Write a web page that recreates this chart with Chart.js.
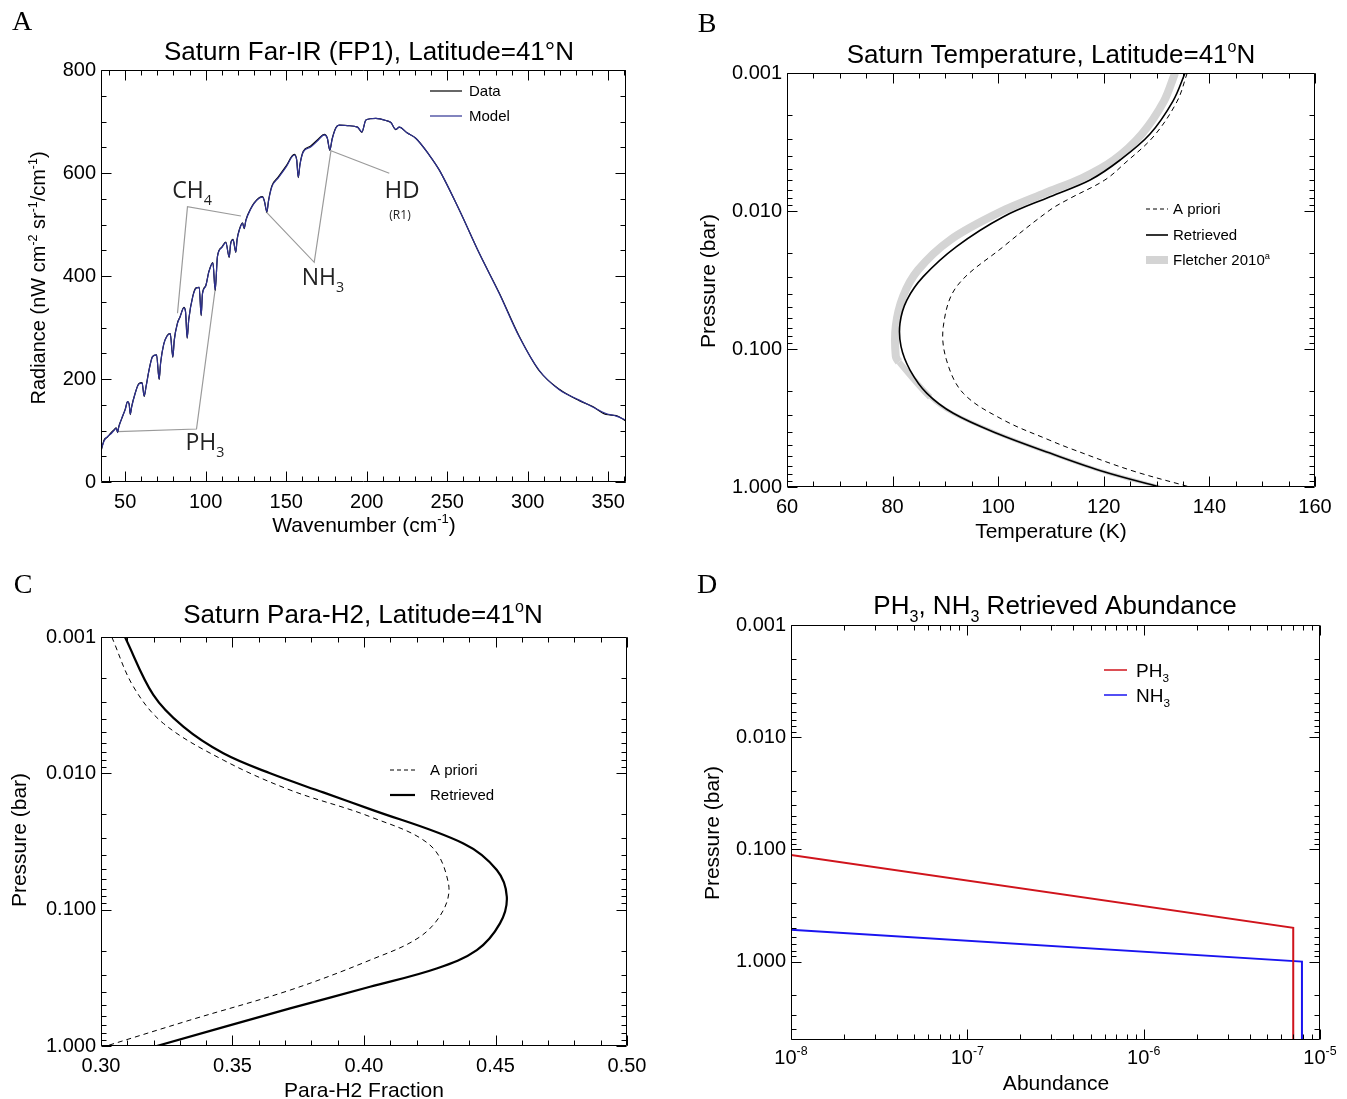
<!DOCTYPE html>
<html><head><meta charset="utf-8">
<script src="https://cdn.jsdelivr.net/npm/chart.js@4.4.0/dist/chart.umd.min.js"></script>
<style>
html,body{margin:0;padding:0;background:#fff;}
#wrap{position:relative;width:1347px;height:1099px;overflow:hidden;background:#fff;}
#wrap canvas{position:absolute;left:0;top:0;}
</style></head><body>
<div id="wrap">
<canvas id="cA" width="1347" height="1099"></canvas>
<canvas id="cB" width="1347" height="1099"></canvas>
<canvas id="cC" width="1347" height="1099"></canvas>
<canvas id="cD" width="1347" height="1099"></canvas>
</div>
<script>
// ---------- Panel A: Far-IR spectrum ----------
const wavenumber = [35,37,39,41,43,44.5,45.3,46,48,50,51.5,52.5,53.2,54,56,58.5,60.5,61.8,63,65,67,69.5,71.1,72,74,76,78,79.6,80.5,82.5,84,86.5,87.5,88.5,89.5,92,94,96,97.2,98,100,102,104.5,105.9,107.3,110,112.5,114.6,115.5,117,118.7,119.5,121,122.9,123.9,125,128,130.1,133.2,135.3,136.5,138,139,141.1,145,150,155,156.5,157.5,158.5,160.6,165,170,173.6,175.5,177.1,178.5,180.8,182.9,188,194.3,197,199.5,205.7,211.9,215,218.1,220.2,225,230.6,238.8,245,257.5,269.9,282.3,294.7,307.1,319.6,332,340,348.6,355,361];
const radianceModel = [62,80,88,93,100,104,97,106,125,140,156,150,132,145,170,190,192,167,185,220,243,247,200,230,268,283,288,243,275,308,320,338,330,280,315,360,376,378,324,365,380,408,425,373,437,455,465,437,462,470,447,470,490,502,493,508,530,541,551,553,545,525,545,573,590,612,635,625,592,615,641,650,664,674,668,645,665,687,693,692,689,680,703,706,702,698,685,689,678,667,635,606,528,444,366,282,217,179,159,146,133,128,120];
const radianceData  = [60,82,87,95,101,105,96,107,124,141,156,151,131,146,170,191,193,166,186,220,244,247,199,231,268,284,288,242,276,309,320,339,331,279,316,361,377,378,323,366,381,409,426,372,438,456,466,436,463,471,446,471,491,503,492,509,531,542,552,554,545,524,546,575,592,614,636,626,591,616,642,652,666,675,668,644,666,688,693,692,689,679,703,706,702,698,684,689,678,667,635,606,528,444,367,283,216,180,158,147,131,129,118];
// annotation leader lines (wavenumber, radiance)
const ch4LeadX = [121.9, 88.7, 82.5],  ch4LeadY = [516.5, 534.6, 327.6];
const ph3LeadX = [45.2, 94.3, 105.9],  ph3LeadY = [97.7, 102.9, 374.2];
const nh3LeadX = [137.4, 167.4, 177.8], nh3LeadY = [524.9, 426.6, 643.3];
const hdLeadX  = [177.8, 214.0],        hdLeadY  = [643.3, 599.4];
const aXTicks = [50,100,150,200,250,300,350];
const aYTicks = [0,200,400,600,800];

// ---------- Panel B: temperature ----------
const retrievedT = [135.4,133.1,128.75,123.1,117.4,109.8,101.0,92.1,85.8,82.7,81.4,81.6,83.3,86.5,91.5,99.7,109.8,120.2,130.6];
const retrievedP = [0.001,0.0016,0.00277,0.00427,0.00596,0.00788,0.011,0.0181,0.0299,0.0442,0.0651,0.0962,0.142,0.2096,0.2924,0.408,0.568,0.779,1.0];
const aprioriT = [135.8,133.9,129.5,124.0,120.2,113.6,109.8,101.0,92.1,89.6,90.2,93.4,101.0,109.8,113.6,125.0,136.3];
const aprioriP = [0.001,0.0016,0.00286,0.0045,0.00596,0.0081,0.00984,0.0181,0.0354,0.0689,0.120,0.2096,0.327,0.459,0.525,0.754,1.0];
const fletcherT = [133.5,131.4,127.2,121.9,115.9,108.9,100.3,90.9,84.8,82.0,80.6,80.6,81.2,87.1,91.4,99.8,109.8,120.2,130.6];
const fletcherP = [0.001,0.0016,0.00277,0.00427,0.00577,0.00741,0.0102,0.0162,0.0268,0.0414,0.0682,0.1126,0.124,0.2237,0.2924,0.408,0.568,0.779,1.0];
const tXTicks = [60,80,100,120,140,160];
const pTicks = [0.001,0.01,0.1,1];

// ---------- Panel C: para-H2 ----------
const paraRetF = [0.3091,0.3199,0.3313,0.3465,0.3643,0.3845,0.4023,0.4378,0.4505,0.4543,0.4517,0.4429,0.4276,0.4023,0.3719,0.3212];
const paraRetP = [0.001,0.00266,0.00455,0.00713,0.0100,0.0138,0.0183,0.0327,0.0512,0.0804,0.126,0.198,0.270,0.368,0.530,1.0];
const paraAprF = [0.3041,0.3123,0.3237,0.3465,0.3719,0.4023,0.4251,0.4321,0.4302,0.4213,0.4023,0.3719,0.3338,0.302];
const paraAprP = [0.001,0.00231,0.0043,0.00799,0.01326,0.0208,0.0336,0.0641,0.1007,0.158,0.2344,0.389,0.646,1.0];
const fXTicks = [0.30,0.35,0.40,0.45,0.50];

// ---------- Panel D: abundances ----------
const ph3Abund = [1e-8, 7.05e-6, 7.05e-6];
const ph3Pres  = [0.112, 0.5, 5];
const nh3Abund = [1e-8, 7.9e-6, 7.9e-6];
const nh3Pres  = [0.52, 1.0, 5];
const abundTicks = [1e-8,1e-7,1e-6,1e-5];

// ---------- helpers ----------
const SANS = '"Liberation Sans", Arial, Helvetica, sans-serif';
const SERIF = '"Liberation Serif", "Times New Roman", serif';
const OPEN = '"Open Sans", "Liberation Sans", sans-serif';
Chart.defaults.font.family = SANS;
const zip = (xs, ys) => xs.map((x, i) => ({x: x, y: ys[i]}));
function linMinor(lo, hi, step){ const out=[]; for(let k=Math.ceil(lo/step-1e-9); k*step<=hi+1e-9; k++) out.push(+(k*step).toFixed(6)); return out; }
function logMinor(lo, hi){ const out=[]; for(let e=Math.floor(Math.log10(lo)); e<Math.ceil(Math.log10(hi)); e++){ for(let m=2;m<=9;m++){ const v=m*Math.pow(10,e); if(v>lo && v<hi) out.push(v);} } return out; }

function drawRich(ctx, x, y, parts, o){
  const size = o.size, fam = o.family || SANS;
  ctx.save();
  ctx.translate(x, y);
  if (o.rotate) ctx.rotate(o.rotate);
  ctx.fillStyle = o.color || '#000';
  ctx.textBaseline = 'alphabetic'; ctx.textAlign = 'left';
  let w = 0;
  const items = parts.map(p => {
    const t = (typeof p === 'string') ? [p, ''] : p;
    const s = t[1] ? size*0.62 : size;
    ctx.font = s + 'px ' + fam;
    const mw = ctx.measureText(t[0]).width;
    w += mw;
    return {text: t[0], mode: t[1], s: s, w: mw};
  });
  let cx = o.align === 'left' ? 0 : (o.align === 'right' ? -w : -w/2);
  const base = size*0.36;
  items.forEach(it => {
    ctx.font = it.s + 'px ' + fam;
    let dy = base;
    if (it.mode === 'sub') dy += size*0.28;
    if (it.mode === 'sup') dy -= size*0.42;
    ctx.fillText(it.text, cx, dy);
    cx += it.w;
  });
  ctx.restore();
}

const frames = {};
const idlFrame = {
  id: 'idlFrame',
  afterDatasetsDraw(chart){
    const o = frames[chart.canvas.id]; if (!o) return;
    const ctx = chart.ctx, a = chart.chartArea, xs = chart.scales.x, ys = chart.scales.y;
    ctx.save();
    ctx.strokeStyle = '#000'; ctx.lineWidth = 1; ctx.setLineDash([]);
    const L = Math.round(a.left)+0.5, R = Math.round(a.right)-0.5, T = Math.round(a.top)+0.5, B = Math.round(a.bottom)-0.5;
    ctx.beginPath();
    ctx.rect(L, T, R-L, B-T);
    const tk = (vals, len, hor) => vals.forEach(v => {
      const p = Math.round((hor ? xs : ys).getPixelForValue(v)) + 0.5;
      if (hor){ ctx.moveTo(p,B); ctx.lineTo(p,B-len); ctx.moveTo(p,T); ctx.lineTo(p,T+len); }
      else { ctx.moveTo(L,p); ctx.lineTo(L+len,p); ctx.moveTo(R,p); ctx.lineTo(R-len,p); }
    });
    tk(o.xMajor, 10, true); tk(o.xMinor, 5, true); tk(o.yMajor, 10, false); tk(o.yMinor, 5, false);
    ctx.stroke();
    if (o.logXLabels){
      o.logXLabels.forEach(v => {
        const px = xs.getPixelForValue(v);
        drawRich(ctx, px, B+17, ['10', [String(Math.round(Math.log10(v))), 'sup']], {size: 20});
      });
    }
    (o.legend || []).forEach(l => {
      ctx.save();
      ctx.strokeStyle = l.color; ctx.lineWidth = l.width; ctx.lineCap = 'butt';
      ctx.setLineDash(l.dash || []);
      ctx.beginPath(); ctx.moveTo(l.x1, l.y); ctx.lineTo(l.x2, l.y); ctx.stroke();
      ctx.restore();
      drawRich(ctx, l.tx, l.y, l.parts, {size: l.size, align: 'left'});
    });
    (o.texts || []).forEach(t => drawRich(ctx, t.x, t.y, t.parts, t));
    ctx.restore();
  }
};

const YW = 90, XH = 60, W = 1347, H = 1099;
function axis(type, min, max, ticksArr, fmt, horizontal, showLabels){
  return {
    type: type, min: min, max: max, position: horizontal ? 'bottom' : 'left',
    reverse: (!horizontal && type === 'logarithmic'),
    grid: {display: false, drawTicks: false}, border: {display: false},
    ticks: {display: showLabels !== false, autoSkip: false, maxRotation: 0, minRotation: 0, color: '#000',
      font: {family: SANS, size: 20}, padding: horizontal ? 8 : 5, callback: (v) => fmt(v)},
    afterBuildTicks: (s) => { s.ticks = ticksArr.map(v => ({value: v})); },
    afterFit: (s) => { if (horizontal) s.height = XH; else s.width = YW; }
  };
}
function ds(xs, ys, color, width, extra){
  return Object.assign({data: zip(xs, ys), borderColor: color, backgroundColor: color, borderWidth: width,
    showLine: true, pointRadius: 0, pointHoverRadius: 0, tension: 0, clip: 0, fill: false}, extra || {});
}
function makeChart(id, box, xAxis, yAxis, datasets){
  return new Chart(document.getElementById(id), {
    type: 'scatter',
    data: {datasets: datasets},
    options: {
      responsive: false, animation: false, events: [],
      layout: {padding: {left: box.L - YW, top: box.T, right: W - box.R, bottom: H - box.B - XH}},
      plugins: {legend: {display: false}, tooltip: {enabled: false}, title: {display: false}},
      scales: {x: xAxis, y: yAxis}
    },
    plugins: [idlFrame]
  });
}
const ROT = -Math.PI/2;
const GRAY = '#9a9a9a';

// ----- Panel A -----
frames.cA = {
  xMajor: aXTicks, xMinor: linMinor(35, 361, 10), yMajor: aYTicks, yMinor: linMinor(0, 800, 50),
  legend: [
    {x1: 430, x2: 462, y: 91, color: '#000', width: 1.2, tx: 469, parts: ['Data'], size: 15},
    {x1: 430, x2: 462, y: 116, color: '#2e3192', width: 1.2, tx: 469, parts: ['Model'], size: 15}
  ],
  texts: [
    {x: 22, y: 20, parts: ['A'], size: 28, family: SERIF},
    {x: 369, y: 51, parts: ['Saturn Far-IR (FP1), Latitude=41°N'], size: 26},
    {x: 364, y: 524, parts: ['Wavenumber (cm', ['-1','sup'], ')'], size: 21},
    {x: 38, y: 278, rotate: ROT, parts: ['Radiance (nW cm', ['-2','sup'], ' sr', ['-1','sup'], '/cm', ['-1','sup'], ')'], size: 20},
    {x: 192, y: 190, parts: ['CH', ['4','sub']], size: 23, family: OPEN, color: '#222'},
    {x: 323, y: 277, parts: ['NH', ['3','sub']], size: 23, family: OPEN, color: '#222'},
    {x: 205, y: 442, parts: ['PH', ['3','sub']], size: 23, family: OPEN, color: '#222'},
    {x: 402, y: 189, parts: ['HD'], size: 24, family: OPEN, color: '#222'},
    {x: 400, y: 215, parts: ['(R1)'], size: 12, family: OPEN, color: '#222'}
  ]
};
makeChart('cA', {L: 101, R: 626, T: 70, B: 482},
  axis('linear', 35, 361, aXTicks, v => String(v), true),
  axis('linear', 0, 800, aYTicks, v => String(v), false),
  [
    ds(wavenumber, radianceModel, '#2e3192', 1.2, {cubicInterpolationMode: 'monotone'}),
    ds(wavenumber, radianceData, '#000', 1.2, {cubicInterpolationMode: 'monotone'}),
    ds(ch4LeadX, ch4LeadY, GRAY, 1.2),
    ds(ph3LeadX, ph3LeadY, GRAY, 1.2),
    ds(nh3LeadX, nh3LeadY, GRAY, 1.2),
    ds(hdLeadX, hdLeadY, GRAY, 1.2)
  ]);

// ----- Panel B -----
frames.cB = {
  xMajor: tXTicks, xMinor: linMinor(60, 160, 5), yMajor: pTicks, yMinor: logMinor(0.001, 1),
  legend: [
    {x1: 1146, x2: 1168, y: 209, color: '#000', width: 1, dash: [4,3], tx: 1173, parts: ['A priori'], size: 15},
    {x1: 1146, x2: 1168, y: 235, color: '#000', width: 1.6, tx: 1173, parts: ['Retrieved'], size: 15},
    {x1: 1146, x2: 1168, y: 260, color: '#d4d4d4', width: 8, tx: 1173, parts: ['Fletcher 2010', ['a','sup']], size: 15}
  ],
  texts: [
    {x: 707, y: 22, parts: ['B'], size: 28, family: SERIF},
    {x: 1051, y: 54, parts: ['Saturn Temperature, Latitude=41', ['o','sup'], 'N'], size: 26},
    {x: 1051, y: 530, parts: ['Temperature (K)'], size: 21},
    {x: 707, y: 281, rotate: ROT, parts: ['Pressure (bar)'], size: 21}
  ]
};
makeChart('cB', {L: 787, R: 1315, T: 73, B: 487},
  axis('linear', 60, 160, tXTicks, v => String(v), true),
  axis('logarithmic', 0.001, 1, pTicks, v => v.toFixed(3), false),
  [
    ds(retrievedT, retrievedP, '#000', 1.6, {tension: 0.35}),
    ds(aprioriT, aprioriP, '#000', 1, {tension: 0.35, borderDash: [5,4]}),
    ds(fletcherT, fletcherP, '#d4d4d4', 8, {tension: 0.3,
      segment: {borderWidth: (c) => c.p0DataIndex >= 13 ? 3.5 : (c.p0DataIndex >= 12 ? 6 : 8)}})
  ]);

// ----- Panel C -----
frames.cC = {
  xMajor: fXTicks, xMinor: linMinor(0.30, 0.50, 0.01), yMajor: pTicks, yMinor: logMinor(0.001, 1),
  legend: [
    {x1: 390, x2: 415, y: 770, color: '#000', width: 1, dash: [4,3], tx: 430, parts: ['A priori'], size: 15},
    {x1: 390, x2: 415, y: 795, color: '#000', width: 2.2, tx: 430, parts: ['Retrieved'], size: 15}
  ],
  texts: [
    {x: 23, y: 583, parts: ['C'], size: 28, family: SERIF},
    {x: 363, y: 614, parts: ['Saturn Para-H2, Latitude=41', ['o','sup'], 'N'], size: 26},
    {x: 364, y: 1089, parts: ['Para-H2 Fraction'], size: 21},
    {x: 18, y: 840, rotate: ROT, parts: ['Pressure (bar)'], size: 21}
  ]
};
makeChart('cC', {L: 101, R: 627, T: 637, B: 1046},
  axis('linear', 0.30, 0.50, fXTicks, v => v.toFixed(2), true),
  axis('logarithmic', 0.001, 1, pTicks, v => v.toFixed(3), false),
  [
    ds(paraRetF, paraRetP, '#000', 2.2, {tension: 0.35}),
    ds(paraAprF, paraAprP, '#000', 1, {tension: 0.35, borderDash: [5,4]})
  ]);

// ----- Panel D -----
frames.cD = {
  xMajor: abundTicks, xMinor: logMinor(1e-8, 1e-5), yMajor: pTicks, yMinor: logMinor(0.001, 5),
  logXLabels: abundTicks,
  legend: [
    {x1: 1104, x2: 1127, y: 670, color: '#d0141c', width: 1.5, tx: 1136, parts: ['PH', ['3','sub']], size: 19},
    {x1: 1104, x2: 1127, y: 695, color: '#1a14f0', width: 1.5, tx: 1136, parts: ['NH', ['3','sub']], size: 19}
  ],
  texts: [
    {x: 707, y: 583, parts: ['D'], size: 28, family: SERIF},
    {x: 1055, y: 605, parts: ['PH', ['3','sub'], ', NH', ['3','sub'], ' Retrieved Abundance'], size: 26},
    {x: 1056, y: 1082, parts: ['Abundance'], size: 21},
    {x: 711, y: 833, rotate: ROT, parts: ['Pressure (bar)'], size: 21}
  ]
};
makeChart('cD', {L: 791, R: 1320, T: 625, B: 1040},
  axis('logarithmic', 1e-8, 1e-5, abundTicks, v => '', true, false),
  axis('logarithmic', 0.001, 5, pTicks, v => v.toFixed(3), false),
  [
    ds(ph3Abund, ph3Pres, '#d0141c', 2),
    ds(nh3Abund, nh3Pres, '#1a14f0', 2)
  ]);
</script>
</body></html>
